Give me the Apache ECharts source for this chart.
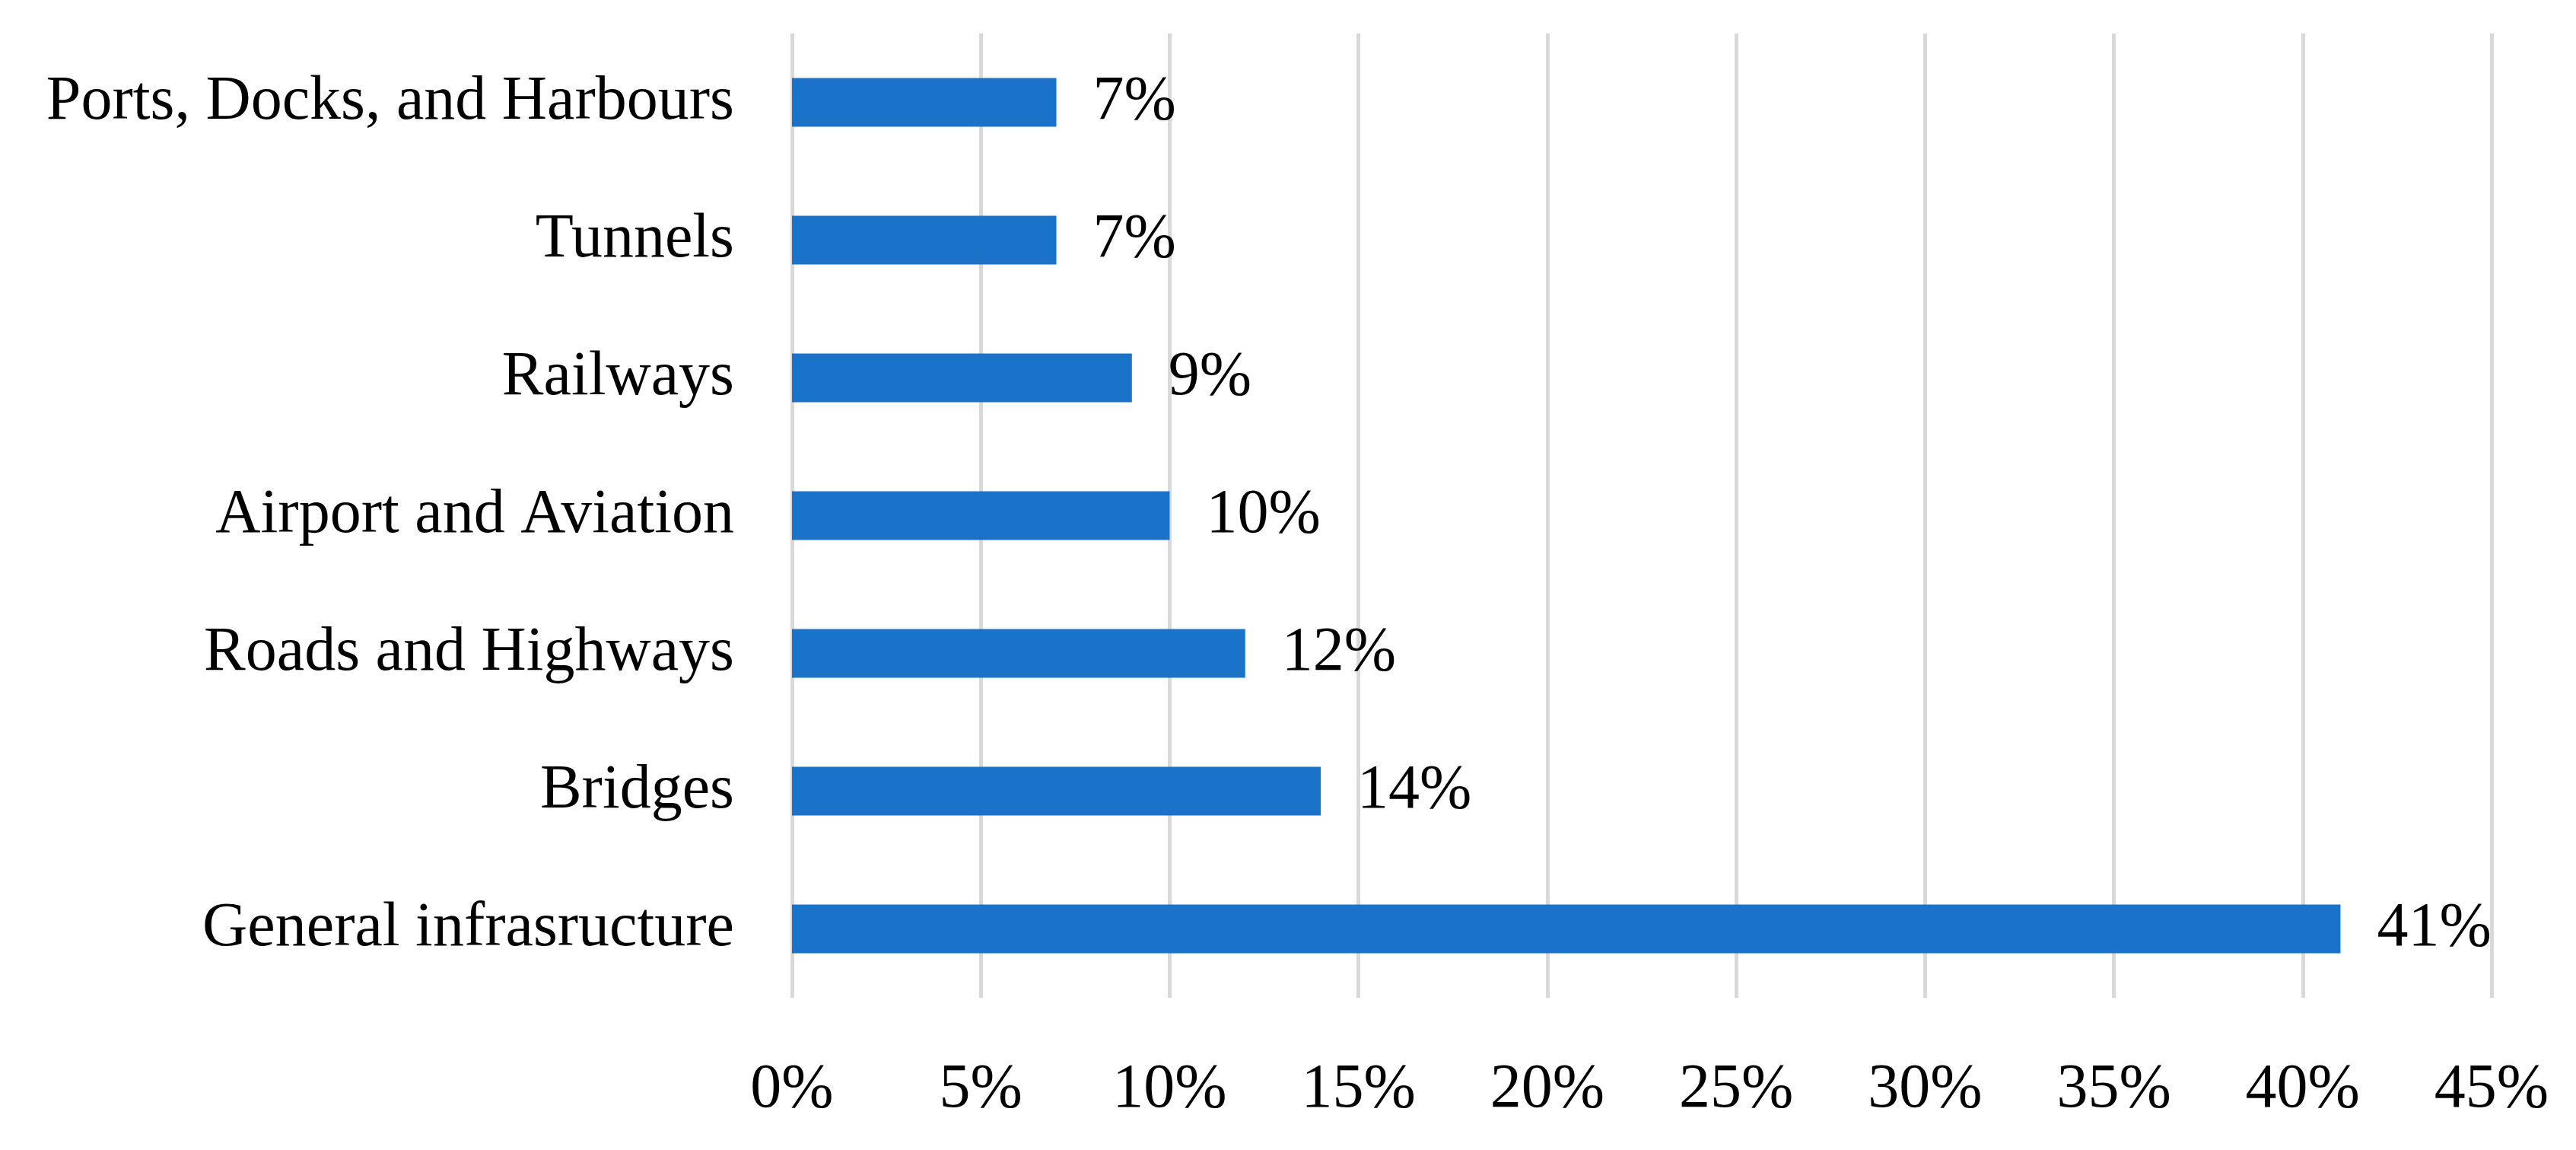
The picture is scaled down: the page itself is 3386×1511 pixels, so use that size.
<!DOCTYPE html>
<html>
<head>
<meta charset="utf-8">
<script src="https://cdn.jsdelivr.net/npm/echarts@6/dist/echarts.min.js"></script>
<style>
  html, body { margin: 0; padding: 0; background: #fff; }
  #chart { width: 3386px; height: 1511px; }
</style>
</head>
<body>
<div id="chart"></div>
<script>
  // categories listed bottom to top
  const categories = [
    'General infrasructure',
    'Bridges',
    'Roads and Highways',
    'Airport and Aviation',
    'Railways',
    'Tunnels',
    'Ports, Docks, and Harbours'
  ];
  const shares = [41, 14, 12, 10, 9, 7, 7];

  const font = '"Liberation Serif", "DejaVu Serif", serif';
  const myEcharts = echarts.init(document.getElementById('chart'));
  const options = {
    animation: false,
    grid: {
      left: 1041,
      right: 111,
      top: 44,
      bottom: 200
    },
    xAxis: {
      type: 'value',
      min: 0,
      max: 45,
      interval: 5,
      axisLine: { show: false },
      axisTick: { show: false },
      splitLine: {
        show: true,
        lineStyle: { color: '#d9d9d9', width: 5 }
      },
      axisLabel: {
        formatter: '{value}%',
        color: '#000',
        fontFamily: font,
        fontSize: 82,
        margin: 80
      }
    },
    yAxis: {
      type: 'category',
      data: categories,
      axisLine: { show: false },
      axisTick: { show: false },
      axisLabel: {
        color: '#000',
        fontFamily: font,
        fontSize: 82,
        margin: 76
      }
    },
    series: [{
      type: 'bar',
      data: shares,
      barWidth: 64,
      itemStyle: { color: '#1a73c8' },
      label: {
        show: true,
        position: 'right',
        distance: 48,
        formatter: '{c}%',
        color: '#000',
        fontFamily: font,
        fontSize: 82
      }
    }]
  };
  myEcharts.setOption(options, true);
</script>
</body>
</html>
